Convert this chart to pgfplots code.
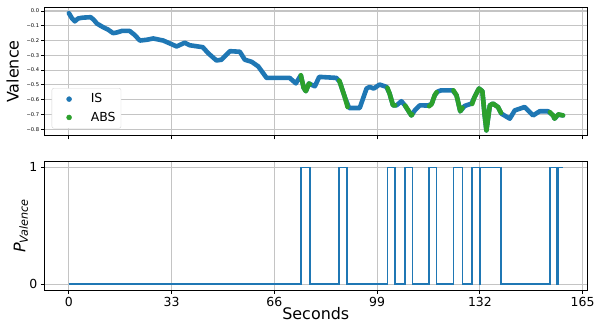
\documentclass[border=0pt]{standalone}
\usepackage{pgfplots}
\pgfplotsset{compat=1.18}
\usepackage{fontspec}
\setmainfont{DejaVu Sans}
\definecolor{c0}{HTML}{1F77B4}
\definecolor{c2}{HTML}{2CA02C}
\definecolor{gridc}{HTML}{C4C4C4}

\pgfplotstableread{
x y
0 -0.015
1.0 -0.05
1.9 -0.07
3.0 -0.05
4.5 -0.045
7.0 -0.042
8.0 -0.06
9.0 -0.085
11.0 -0.11
12.5 -0.125
14.2 -0.15
15.5 -0.145
17.0 -0.135
19.5 -0.135
21.0 -0.16
22.8 -0.2
25.0 -0.195
27.1 -0.186
30.3 -0.2
33.0 -0.225
34.6 -0.24
37.2 -0.215
38.8 -0.232
43.0 -0.245
44.7 -0.285
47.4 -0.335
49.0 -0.33
51.7 -0.272
54.9 -0.276
56.5 -0.33
58.7 -0.344
60.8 -0.375
63.5 -0.453
70.9 -0.453
72.9 -0.49
74.5 -0.435
75.4 -0.52
76.1 -0.543
77.1 -0.491
79.0 -0.51
80.4 -0.446
85.9 -0.453
87.0 -0.48
88.6 -0.582
90.0 -0.657
93.4 -0.657
95.6 -0.525
96.6 -0.514
97.9 -0.525
99.8 -0.498
102.0 -0.514
103.0 -0.559
104.1 -0.639
105.2 -0.639
106.8 -0.611
107.9 -0.639
110.0 -0.707
111.1 -0.673
112.7 -0.639
115.3 -0.64
116.5 -0.63
117.5 -0.57
118.5 -0.545
119.6 -0.537
123.2 -0.537
124.5 -0.571
125.7 -0.679
127.1 -0.643
129.3 -0.627
130.3 -0.582
131.7 -0.525
132.8 -0.543
133.5 -0.70
134.1 -0.808
135.2 -0.639
136.2 -0.627
137.8 -0.65
138.9 -0.695
141.6 -0.729
143.2 -0.673
146.4 -0.65
149.1 -0.707
151.2 -0.679
153.9 -0.679
155.5 -0.707
156.0 -0.729
157.1 -0.702
158.7 -0.707
}\isdata

\pgfplotstableread{
x y
74.5 -0.435
75.4 -0.52
76.1 -0.543
77.1 -0.491
77.4 -0.495
nan nan
86.8 -0.47
87.0 -0.48
88.6 -0.582
89.5 -0.65
nan nan
102.3 -0.52
103.0 -0.559
104.1 -0.639
104.8 -0.639
nan nan
108.0 -0.64
110.0 -0.707
110.3 -0.70
nan nan
115.7 -0.645
116.5 -0.63
117.5 -0.57
118.1 -0.55
nan nan
123.5 -0.537
124.5 -0.571
125.7 -0.679
126.4 -0.655
nan nan
129.5 -0.63
130.3 -0.582
131.7 -0.525
132.8 -0.543
133.5 -0.70
134.1 -0.808
135.2 -0.639
136.2 -0.627
137.8 -0.65
138.8 -0.69
nan nan
154.5 -0.685
155.5 -0.707
156.0 -0.729
156.7 -0.71
nan nan
157.2 -0.70
158.7 -0.707
}\absdata

\pgfplotstableread{
x p
0 0
74.5 1
77.4 0
86.8 1
89.4 0
102.3 1
104.8 0
108.0 1
110.3 0
115.7 1
118.1 0
123.5 1
126.4 0
129.5 1
131.95 0
132.1 1
138.8 0
154.5 1
156.7 0
157.2 1
158.8 1
}\pdata

\begin{document}
\begin{tikzpicture}
\pgfplotsset{
  every axis/.append style={
    scale only axis, width=543bp, height=128.5bp,
    xmin=-7.9, xmax=166.5,
    xtick={0,33,66,99,132,165},
    grid=major, major grid style={gridc, line width=1.1bp},
    tick align=outside, major tick length=3.5bp,
    tick style={black, line width=0.8bp},
    xtick pos=bottom, ytick pos=left,
    axis line style={line width=1bp},
    /pgf/number format/assume math mode=true,
  },
}
\begin{axis}[name=top,
  ymin=-0.845, ymax=0.025,
  xticklabels={},
  ytick={-0.8,-0.7,-0.6,-0.5,-0.4,-0.3,-0.2,-0.1,0},
  yticklabels={−0.8,−0.7,−0.6,−0.5,−0.4,−0.3,−0.2,−0.1,0.0},
  yticklabel style={font=\fontsize{5.2}{6}\selectfont, inner sep=1.5bp},
  ylabel={Valence},
  ylabel style={font=\fontsize{16}{19}\selectfont, at={(axis description cs:-0.058,0.5)}, anchor=center},
  legend image code/.code={\path (0,0) (33bp,0); \fill[#1] (13.5bp,0) circle (2.5bp);},
  legend style={font=\fontsize{12.5}{15}\selectfont, draw=gridc!70, rounded corners=2bp,
    at={(rel axis cs:0,0)}, anchor=south west, xshift=7.4bp, yshift=7.3bp,
    inner sep=3.5bp, row sep=3.6bp, legend cell align=left},
]
\addplot[c0, line width=4.6bp, line cap=round, line join=round, forget plot] table {\isdata};
\addplot[c2, line width=4.6bp, line cap=round, line join=round, unbounded coords=jump, forget plot] table {\absdata};
\addlegendimage{c0}
\addlegendentry{IS}
\addlegendimage{c2}
\addlegendentry{ABS}
\end{axis}
\begin{axis}[name=bot, at={(top.south west)}, anchor=north west, yshift=-25.7bp,
  ymin=-0.05, ymax=1.05,
  ytick={0,1},
  ticklabel style={font=\fontsize{12.5}{15}\selectfont},
  xlabel={Seconds},
  xlabel style={font=\fontsize{16}{19}\selectfont, at={(axis description cs:0.5,-0.18)}, anchor=center},
  ylabel={\itshape P\textsubscript{Valence}},
  ylabel style={font=\fontsize{16}{19}\selectfont, at={(axis description cs:-0.043,0.5)}, anchor=center},
]
\addplot[c0, line width=1.5bp, const plot] table {\pdata};
\end{axis}
\pgfresetboundingbox
\path (top.north west) ++(-44.3bp,7.3bp) rectangle ++(603bp,-322bp);
\end{tikzpicture}
\end{document}
